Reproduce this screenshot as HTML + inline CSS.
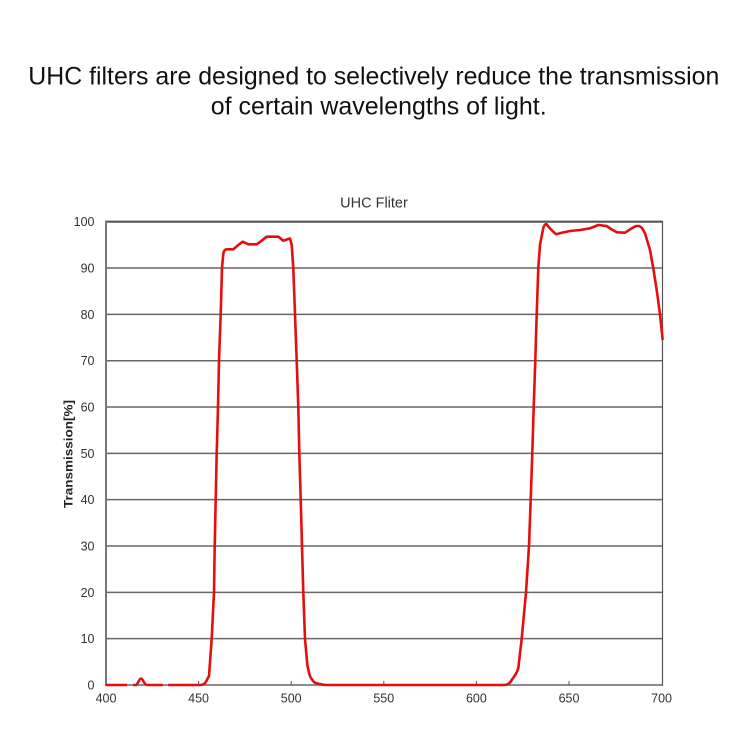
<!DOCTYPE html>
<html>
<head>
<meta charset="utf-8">
<style>
  html, body { margin: 0; padding: 0; background: #ffffff; }
  body { width: 750px; height: 750px; overflow: hidden; }
  svg { display: block; }
  text { font-family: "Liberation Sans", Arial, sans-serif; }
</style>
</head>
<body>
<svg width="750" height="750" viewBox="0 0 750 750" xmlns="http://www.w3.org/2000/svg">
  <rect x="0" y="0" width="750" height="750" fill="#ffffff"/>

  <!-- Heading -->
  <text x="28.3" y="84.5" font-size="25" fill="#111" textLength="691" lengthAdjust="spacingAndGlyphs">UHC filters are designed to selectively reduce the transmission</text>
  <text x="210.7" y="114.5" font-size="25" fill="#111" textLength="336" lengthAdjust="spacingAndGlyphs">of certain wavelengths of light.</text>

  <!-- Chart title -->
  <text x="374" y="207.7" font-size="14.5" fill="#333" text-anchor="middle">UHC Fliter</text>

  <!-- Gridlines -->
  <g stroke="#666" stroke-width="1.5">
    <line x1="106" y1="638.67" x2="662" y2="638.67"/>
    <line x1="106" y1="592.34" x2="662" y2="592.34"/>
    <line x1="106" y1="546.01" x2="662" y2="546.01"/>
    <line x1="106" y1="499.68" x2="662" y2="499.68"/>
    <line x1="106" y1="453.35" x2="662" y2="453.35"/>
    <line x1="106" y1="407.02" x2="662" y2="407.02"/>
    <line x1="106" y1="360.69" x2="662" y2="360.69"/>
    <line x1="106" y1="314.36" x2="662" y2="314.36"/>
    <line x1="106" y1="268.03" x2="662" y2="268.03"/>
  </g>
  <!-- Frame -->
  <line x1="105" y1="221.7" x2="663" y2="221.7" stroke="#555" stroke-width="2.2"/>
  <line x1="106" y1="221" x2="106" y2="686" stroke="#777" stroke-width="2"/>
  <line x1="662.5" y1="221" x2="662.5" y2="686" stroke="#555" stroke-width="1.2"/>
  <line x1="105" y1="685" x2="663" y2="685" stroke="#666" stroke-width="1.6"/>
  <!-- x ticks -->
  <g stroke="#555" stroke-width="1">
    <line x1="198.6" y1="685" x2="198.6" y2="681"/>
    <line x1="291.2" y1="685" x2="291.2" y2="681"/>
    <line x1="383.8" y1="685" x2="383.8" y2="681"/>
    <line x1="476.4" y1="685" x2="476.4" y2="681"/>
    <line x1="569" y1="685" x2="569" y2="681"/>
  </g>

  <!-- Y tick labels -->
  <g font-size="12.5" fill="#333" text-anchor="end">
    <text x="94.5" y="226.2">100</text>
    <text x="94.5" y="272.5">90</text>
    <text x="94.5" y="318.9">80</text>
    <text x="94.5" y="365.2">70</text>
    <text x="94.5" y="411.5">60</text>
    <text x="94.5" y="457.9">50</text>
    <text x="94.5" y="504.2">40</text>
    <text x="94.5" y="550.5">30</text>
    <text x="94.5" y="596.8">20</text>
    <text x="94.5" y="643.2">10</text>
    <text x="94.5" y="689.5">0</text>
  </g>

  <!-- X tick labels -->
  <g font-size="12.5" fill="#333" text-anchor="middle">
    <text x="106" y="702.7">400</text>
    <text x="198.6" y="702.7">450</text>
    <text x="291.2" y="702.7">500</text>
    <text x="383.8" y="702.7">550</text>
    <text x="476.4" y="702.7">600</text>
    <text x="569" y="702.7">650</text>
    <text x="661.6" y="702.7">700</text>
  </g>

  <!-- Y axis label -->
  <text transform="translate(72.5,454) rotate(-90)" x="0" y="0" font-size="12" font-weight="bold" fill="#222" text-anchor="middle" textLength="108" lengthAdjust="spacingAndGlyphs">Transmission[%]</text>

  <!-- Series -->
  <g fill="none" stroke="#e60d0d" stroke-width="2.6" stroke-linejoin="round" stroke-linecap="butt">
    <path d="M106,685 L127,685"/>
    <path d="M133,685 L136,685 C138,684.5 139,678.5 141,678.5 C143,678.5 144,684.5 147,685 L163,685"/>
    <path d="M168,685 L200,685 C203,685 205,684 206.7,680.4 L209,676 L211.7,638.7 L214,592.3 L214.7,546 L215.7,499.6 L216.7,453.3 L218,406.9 L219,360.6 L220.7,314.3 L222,268 L223.3,254 C224,250 225,249.3 226.7,249.3 L233.3,249.3 L238.3,245 L242.7,241.7 L248.3,244.3 L256.7,244.3 L261.7,240.7 L266.7,236.7 L278.3,236.7 L283.3,240.7 L288.3,239 L290,238.5 L291.7,245 L293.3,268.3 L295,314.3 L296.7,360.6 L298.3,406.9 L299.3,453.3 L300.7,499.6 L302,546 L303.3,592.3 L305,638.7 L307.3,664.6 C309,674 310.5,678 311.7,679 C314,683 316,683.4 318.3,683.6 C322,684.8 324,685 326.7,685 L503.3,685 C507,685 510,684 511.7,679.9 C514,677 516.5,674 518.3,668.3 L521.7,638.7 L526,592.3 L529,546 L530.7,499.6 L532.3,453.3 L533.7,406.9 L535.3,360.6 L536.7,314.3 L538.3,268 L540,244.8 L543.3,228 C544.5,224.5 545.5,224 546.5,224.2 L550,228.5 L556,234.3 L563,232.5 L570,231 L580,230 L590,228.3 L598.3,225 L606.7,226 L611,229 L616.7,232.3 L625,232.7 L631.7,228.3 L636,226 L639.3,226 L642,228 L645,233.3 L650,250 L653.3,268.3 L656.7,290 L660,314.3 L662.7,340"/>
  </g>
</svg>
</body>
</html>
